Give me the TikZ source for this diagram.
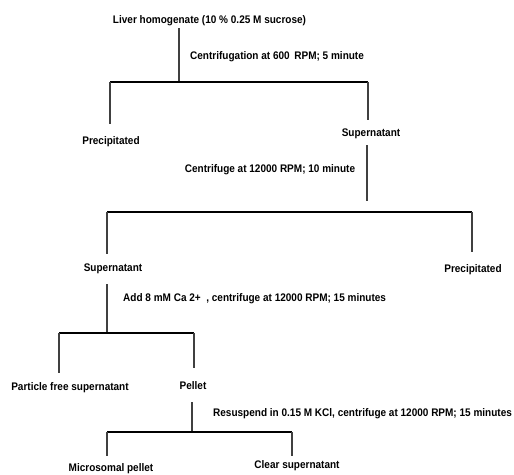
\documentclass[tikz,border=0pt]{standalone}
\usepackage{fontspec}
\setmainfont{Liberation Sans}[FakeStretch=0.91]
\begin{document}
\begin{tikzpicture}[x=1pt,y=-1pt,
  lbl/.style={font=\bfseries\fontsize{11}{13}\selectfont, inner sep=0pt, text=black},
  bar/.style={line width=1.2pt, black},
  drop/.style={line width=1.1pt, black!75}]
\useasboundingbox[fill=white] (0,0) rectangle (514,474);
% texts
\node[lbl] (liver) at (209.5,21) {Liver homogenate (10 \% 0.25 M sucrose)};
\node[lbl,anchor=west] (s1) at (190,57) {Centrifugation at 600 \,RPM; 5 minute};
\node[lbl] (prec1) at (111,142) {Precipitated};
\node[lbl] (sup1) at (371,134) {Supernatant};
\node[lbl] (s2) at (270,170) {Centrifuge at 12000 RPM; 10 minute};
\node[lbl] (sup2) at (113,269) {Supernatant};
\node[lbl] (prec2) at (473,270) {Precipitated};
\node[lbl,anchor=west] (s3) at (123,299) {Add 8 mM Ca 2+ \ , centrifuge at 12000 RPM; 15 minutes};
\node[lbl] (pfs) at (70,388) {Particle free supernatant};
\node[lbl] (pellet) at (193,386) {Pellet};
\node[lbl,anchor=west] (s4) at (213,414) {Resuspend in 0.15 M KCl, centrifuge at 12000 RPM; 15 minutes};
\node[lbl] (micro) at (111,469) {Microsomal pellet};
\node[lbl] (clear) at (297,466) {Clear supernatant};
% junction coordinates
\coordinate (a0) at (179,28);
\coordinate (a1) at (179,82);
\coordinate (aL) at (110,82);
\coordinate (aR) at (368,82);
\coordinate (aLd) at (110,124);
\coordinate (aRd) at (368,120);
\coordinate (b0) at (367,145);
\coordinate (b1) at (367,201);
\coordinate (bL) at (107,212);
\coordinate (bR) at (472,212);
\coordinate (bLd) at (107,254);
\coordinate (bRd) at (472,252);
\coordinate (c0) at (107,284);
\coordinate (c1) at (107,333);
\coordinate (cL) at (59,333);
\coordinate (cR) at (194,333);
\coordinate (cLd) at (59,373);
\coordinate (cRd) at (194,368);
\coordinate (d0) at (192,402);
\coordinate (d1) at (192,432);
\coordinate (dL) at (107,432);
\coordinate (dR) at (292,432);
\coordinate (dLd) at (107,456);
\coordinate (dRd) at (292,456);
% connectors
\draw[drop] (a0) -- (a1);
\draw[bar] (aL) -- (aR);
\draw[drop] (aL) -- (aLd);
\draw[drop] (aR) -- (aRd);
\draw[drop] (b0) -- (b1);
\draw[bar] (bL) -- (bR);
\draw[drop] (bL) -- (bLd);
\draw[drop] (bR) -- (bRd);
\draw[drop] (c0) -- (c1);
\draw[bar] (cL) -- (cR);
\draw[drop] (cL) -- (cLd);
\draw[drop] (cR) -- (cRd);
\draw[drop] (d0) -- (d1);
\draw[bar] (dL) -- (dR);
\draw[drop] (dL) -- (dLd);
\draw[drop] (dR) -- (dRd);
\end{tikzpicture}
\end{document}
